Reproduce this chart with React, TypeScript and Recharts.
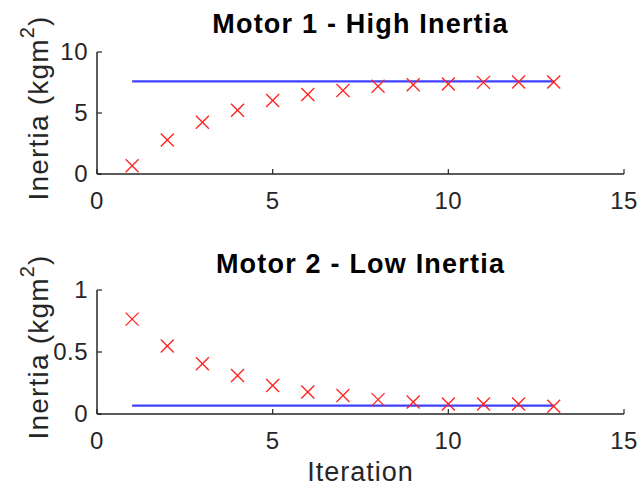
import React from 'react';
import { ComposedChart, Line, Scatter, XAxis, YAxis, Label, Customized } from 'recharts';

const iterations = [1, 2, 3, 4, 5, 6, 7, 8, 9, 10, 11, 12, 13];
const motor1Estimated = [0.68, 2.78, 4.24, 5.22, 6.03, 6.51, 6.84, 7.19, 7.32, 7.38, 7.51, 7.54, 7.54];
const motor1Actual = [7.6, 7.6, 7.6, 7.6, 7.6, 7.6, 7.6, 7.6, 7.6, 7.6, 7.6, 7.6, 7.6];
const motor2Estimated = [0.765, 0.549, 0.405, 0.311, 0.23, 0.178, 0.149, 0.116, 0.097, 0.081, 0.081, 0.081, 0.062];
const motor2Actual = [0.068, 0.068, 0.068, 0.068, 0.068, 0.068, 0.068, 0.068, 0.068, 0.068, 0.068, 0.068, 0.068];
const xTicks = [0, 5, 10, 15];
const motor1YTicks = [0, 5, 10];
const motor2YTicks = [0, 0.5, 1];

const FONT = '"Liberation Sans", Arial, Helvetica, sans-serif';
const AXIS_COLOR = '#262626';

const XTick = (props: any) => {
  const { x, y, payload } = props;
  return (
    <g>
      <line x1={x} x2={x} y1={y} y2={y - 5} stroke={AXIS_COLOR} strokeWidth={1.2} />
      <text x={x} y={y + 35} textAnchor="middle" fill={AXIS_COLOR} fontSize={24} letterSpacing={0.5} fontFamily={FONT}>
        {payload.value}
      </text>
    </g>
  );
};

const YTick = (props: any) => {
  const { x, y, payload } = props;
  return (
    <g>
      <line x1={x} x2={x + 5} y1={y} y2={y} stroke={AXIS_COLOR} strokeWidth={1.2} />
      <text x={x - 9} y={y + 8} textAnchor="end" fill={AXIS_COLOR} fontSize={24} letterSpacing={0.5} fontFamily={FONT}>
        {payload.value}
      </text>
    </g>
  );
};

// red "x" marker
const Cross = (props: any) => {
  const { cx, cy } = props;
  const r = 6.5;
  return (
    <g stroke="#ff2020" strokeWidth={1.3}>
      <line x1={cx - r} y1={cy - r} x2={cx + r} y2={cy + r} />
      <line x1={cx - r} y1={cy + r} x2={cx + r} y2={cy - r} />
    </g>
  );
};

const YLabel = (props: any) => {
  const { viewBox } = props;
  const cx = 38;
  const cy = viewBox.y + viewBox.height / 2 - 5;
  return (
    <text
      x={cx}
      y={cy}
      transform={`rotate(-90 ${cx} ${cy})`}
      textAnchor="middle"
      dominantBaseline="central"
      fill={AXIS_COLOR}
      fontSize={28}
      letterSpacing={1.2}
      fontFamily={FONT}
    >
      Inertia (kgm<tspan fontSize={20} dy={-11}>2</tspan>
      <tspan dy={11}>)</tspan>
    </text>
  );
};

const XLabel = (props: any) => {
  const { viewBox } = props;
  return (
    <text
      x={viewBox.x + viewBox.width / 2}
      y={viewBox.y + 67}
      textAnchor="middle"
      fill={AXIS_COLOR}
      fontSize={27}
      letterSpacing={1}
      fontFamily={FONT}
    >
      Iteration
    </text>
  );
};

interface PanelProps {
  title: string;
  estimated: number[];
  actual: number[];
  yTicks: number[];
  top: number;
  marginTop: number;
  marginBottom: number;
  titleY: number;
  showXLabel?: boolean;
}

const Panel: React.FC<PanelProps> = ({ title, estimated, actual, yTicks, top, marginTop, marginBottom, titleY, showXLabel }) => {
  const data = iterations.map((it, i) => ({ iteration: it, estimated: estimated[i], actual: actual[i] }));
  return (
    <div style={{ position: 'absolute', left: 0, top, width: 640, height: 245 }}>
      <ComposedChart
        width={640}
        height={245}
        data={data}
        margin={{ top: marginTop, right: 16, bottom: marginBottom - 1, left: 96 }}
      >
        <XAxis
          type="number"
          dataKey="iteration"
          domain={[0, 15]}
          ticks={xTicks}
          height={1}
          tickSize={0}
          tickMargin={0}
          tickLine={false}
          tick={<XTick />}
          axisLine={{ stroke: AXIS_COLOR, strokeWidth: 1.5 }}
        >
          {showXLabel && <Label content={<XLabel />} />}
        </XAxis>
        <YAxis
          type="number"
          domain={[yTicks[0], yTicks[yTicks.length - 1]]}
          ticks={yTicks}
          width={1}
          tickSize={0}
          tickMargin={0}
          tickLine={false}
          tick={<YTick />}
          axisLine={{ stroke: AXIS_COLOR, strokeWidth: 1.5 }}
        >
          <Label content={<YLabel />} />
        </YAxis>
        <Line
          type="linear"
          dataKey="actual"
          stroke="#4040ff"
          strokeWidth={2.2}
          dot={false}
          isAnimationActive={false}
        />
        <Scatter dataKey="estimated" shape={<Cross />} isAnimationActive={false} />
        <Customized
          component={() => (
            <text x={360.5} y={titleY} textAnchor="middle" fontWeight="bold" fontSize={27} letterSpacing={1.2} fontFamily={FONT} fill="#000">
              {title}
            </text>
          )}
        />
      </ComposedChart>
    </div>
  );
};

export default function App() {
  return (
    <div style={{ position: 'absolute', left: 0, top: 0, width: 640, height: 490, background: '#fff' }}>
      <Panel
        title="Motor 1 - High Inertia"
        estimated={motor1Estimated}
        actual={motor1Actual}
        yTicks={motor1YTicks}
        top={0}
        marginTop={52}
        marginBottom={71}
        titleY={33}
      />
      <Panel
        title="Motor 2 - Low Inertia"
        estimated={motor2Estimated}
        actual={motor2Actual}
        yTicks={motor2YTicks}
        top={245}
        marginTop={45}
        marginBottom={76}
        titleY={28}
        showXLabel
      />
    </div>
  );
}
